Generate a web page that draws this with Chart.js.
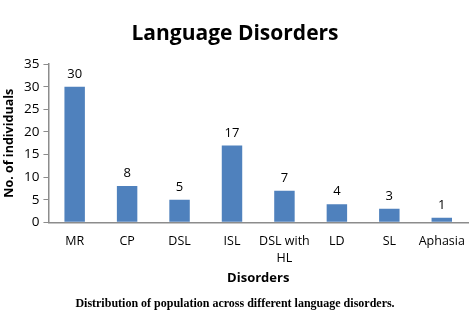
<!DOCTYPE html>
<html>
<head>
<meta charset="utf-8">
<script src="https://cdn.jsdelivr.net/npm/chart.js@4/dist/chart.umd.min.js"></script>
<style>
  html, body { margin: 0; padding: 0; background: #fff; }
  #wrap { width: 474px; height: 333px; }
</style>
</head>
<body>
<div id="wrap"><canvas id="chart" width="474" height="333"></canvas></div>
<script>
// data
const disorders = [['MR'], ['CP'], ['DSL'], ['ISL'], ['DSL with', 'HL'], ['LD'], ['SL'], ['Aphasia']];
const individuals = [30, 8, 5, 17, 7, 4, 3, 1];
const yTicks = [0, 5, 10, 15, 20, 25, 30, 35];

const barColor = '#4f81bd';
const axisColor = '#8c8c8c';
const sansFont = "'Open Sans', 'Noto Sans', sans-serif";

// value labels above each bar
const valueLabels = {
    id: 'valueLabels',
    afterDatasetsDraw(chart) {
        const ctx = chart.ctx;
        const meta = chart.getDatasetMeta(0);
        ctx.save();
        ctx.font = '13px ' + sansFont;
        ctx.fillStyle = '#000';
        ctx.textAlign = 'center';
        ctx.textBaseline = 'bottom';
        meta.data.forEach((bar, i) => {
            ctx.fillText(String(individuals[i]), bar.x, bar.y - 6);
        });
        ctx.restore();
    }
};

new Chart(document.getElementById('chart'), {
    type: 'bar',
    plugins: [valueLabels],
    data: {
        labels: disorders,
        datasets: [{
            data: individuals,
            backgroundColor: barColor,
            borderWidth: 0,
            categoryPercentage: 1,
            barPercentage: 0.39
        }]
    },
    options: {
        responsive: false,
        animation: false,
        layout: {padding: {left: 2, right: 6, top: 21, bottom: 10}},
        plugins: {
            legend: {display: false},
            tooltip: {enabled: false},
            title: {
                display: true,
                text: 'Language Disorders',
                color: '#000',
                font: {family: sansFont, size: 21, weight: 'bold'},
                padding: {top: 0, bottom: 18}
            },
            subtitle: {
                display: true,
                position: 'bottom',
                text: 'Distribution of population across different language disorders.',
                color: '#000',
                font: {family: "'Liberation Serif', serif", size: 12, weight: 'bold'},
                padding: {top: 11, bottom: 12}
            }
        },
        scales: {
            x: {
                grid: {display: false},
                border: {color: axisColor, width: 1.5},
                ticks: {
                    color: '#000',
                    font: {family: sansFont, size: 12.5, lineHeight: 1.35},
                    maxRotation: 0,
                    autoSkip: false,
                    padding: 3
                },
                title: {
                    display: true,
                    text: 'Disorders',
                    color: '#000',
                    font: {family: sansFont, size: 13, weight: 'bold'},
                    padding: {top: 0, bottom: 0}
                }
            },
            y: {
                min: 0,
                max: 35,
                afterBuildTicks(axis) {
                    axis.ticks = yTicks.map(v => ({value: v}));
                },
                grid: {
                    drawOnChartArea: false,
                    drawTicks: true,
                    tickLength: 5,
                    color: axisColor
                },
                border: {color: axisColor, width: 1.5},
                ticks: {
                    color: '#000',
                    font: {family: sansFont, size: 13.5},
                    padding: 4
                },
                title: {
                    display: true,
                    text: 'No. of individuals',
                    color: '#000',
                    font: {family: sansFont, size: 12.5, weight: 'bold'},
                    padding: {top: 0, bottom: 3}
                }
            }
        }
    }
});
</script>
</body>
</html>
